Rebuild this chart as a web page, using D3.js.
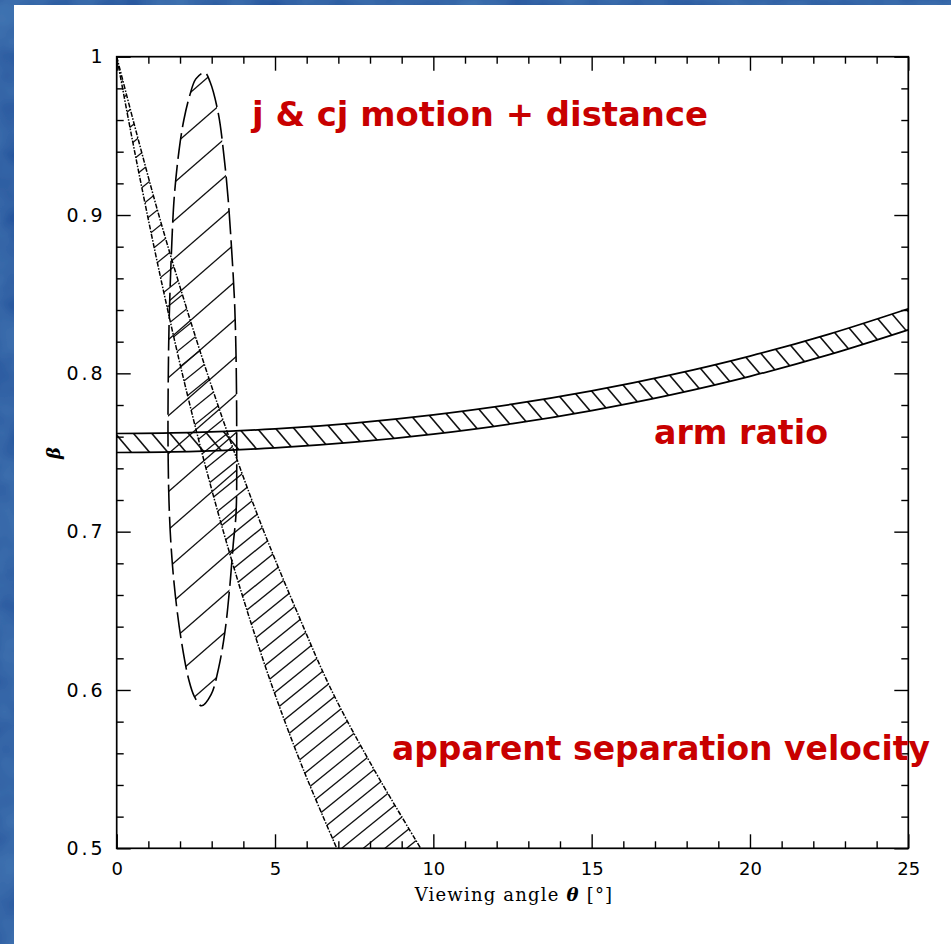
<!DOCTYPE html>
<html><head><meta charset="utf-8">
<script src="https://cdn.jsdelivr.net/npm/d3@7"></script>
<style>html,body{margin:0;padding:0;background:#1f4e99;}svg{display:block;}</style>
</head><body>
<script>
// ---------- data ----------
const xTickLabels = [0, 5, 10, 15, 20, 25];
const yTickLabels = [0.5, 0.6, 0.7, 0.8, 0.9, 1];

// arm ratio band (beta vs theta)
const armTheta = [0, 2.5, 5, 7.5, 10, 12.5, 15, 17.5, 20, 22.5, 25];
const armUpper = [0.762, 0.7627, 0.7649, 0.7686, 0.7738, 0.7805, 0.7889, 0.7990, 0.8109, 0.8248, 0.8408];
const armLower = [0.750, 0.7507, 0.7529, 0.7565, 0.7616, 0.7682, 0.7765, 0.7864, 0.7981, 0.8118, 0.8275];

// apparent separation velocity band (theta of edges vs beta)
const sepBeta       = [1.00, 0.95, 0.90, 0.85, 0.80, 0.75, 0.70, 0.65, 0.60, 0.55, 0.50];
const sepThetaLeft  = [0.00, 0.47, 0.97, 1.50, 2.07, 2.69, 3.37, 4.12, 4.95, 5.89, 6.95];
const sepThetaRight = [0.00, 0.65, 1.33, 2.07, 2.86, 3.72, 4.65, 5.68, 6.78, 8.12, 9.60];

// j & cj motion + distance contour (closed)
const ellTheta = [2.78, 2.95, 3.21, 3.40, 3.52, 3.63, 3.72, 3.77, 3.79, 3.77, 3.68, 3.57, 3.42, 3.22, 2.98, 2.68, 2.45, 2.27, 2.05, 1.85, 1.72, 1.65, 1.62, 1.63, 1.66, 1.74, 1.82, 1.97, 2.12, 2.30, 2.50];
const ellBeta  = [0.990, 0.984, 0.964, 0.935, 0.910, 0.878, 0.846, 0.810, 0.760, 0.712, 0.692, 0.665, 0.637, 0.614, 0.597, 0.590, 0.596, 0.607, 0.630, 0.660, 0.690, 0.720, 0.760, 0.800, 0.836, 0.882, 0.912, 0.941, 0.960, 0.975, 0.986];

const labels = [
  {text: "j & cj motion + distance", x: 252, y: 126, w: 456},
  {text: "arm ratio", x: 654, y: 444, w: 174},
  {text: "apparent separation velocity", x: 392, y: 760, w: 538}
];

// ---------- drawing ----------
const W = 951, H = 944;
const L = 116.7, R = 908.3, T = 56.7, B = 848.3;

const svg = d3.select("body").append("svg").attr("width", W).attr("height", H);
const defs = svg.append("defs");

// mottled blue backdrop
const f = defs.append("filter").attr("id", "tex").attr("x", 0).attr("y", 0).attr("width", 1).attr("height", 1);
f.append("feTurbulence").attr("type", "fractalNoise").attr("baseFrequency", 0.02).attr("numOctaves", 3).attr("seed", 4).attr("result", "n");
f.append("feColorMatrix").attr("in", "n").attr("type", "matrix")
  .attr("values", "0 0 0 0 0.10  0 0 0 0 0.30  0 0 0 0 0.60  0.6 0 0 0 -0.05").attr("result", "c");
f.append("feComposite").attr("in", "c").attr("in2", "SourceGraphic").attr("operator", "over");
svg.append("rect").attr("width", W).attr("height", H).attr("fill", "#1f4e99").attr("filter", "url(#tex)");
svg.append("rect").attr("x", 14).attr("y", 5).attr("width", W - 14).attr("height", H - 5).attr("fill", "#ffffff");

const x = d3.scaleLinear().domain([0, 25]).range([L, R]);
const y = d3.scaleLinear().domain([0.5, 1]).range([B, T]);

defs.append("clipPath").attr("id", "plotclip").append("rect")
  .attr("x", L).attr("y", T).attr("width", R - L).attr("height", B - T);

const plot = svg.append("g").attr("clip-path", "url(#plotclip)");

// geometry builders
const armData = armTheta.map((t, i) => ({t, lo: armLower[i], hi: armUpper[i]}));
const armArea = d3.area().x(d => x(d.t)).y0(d => y(d.lo)).y1(d => y(d.hi)).curve(d3.curveMonotoneX);
const sepData = sepBeta.map((b, i) => ({b, l: sepThetaLeft[i], r: sepThetaRight[i]}));
const sepArea = d3.area().y(d => y(d.b)).x0(d => x(d.l)).x1(d => x(d.r)).curve(d3.curveCatmullRom);
const ellData = ellTheta.map((t, i) => ({t, b: ellBeta[i]}));
const ellLine = d3.line().x(d => x(d.t)).y(d => y(d.b)).curve(d3.curveCatmullRomClosed);

defs.append("clipPath").attr("id", "armclip").append("path").attr("d", armArea(armData));
defs.append("clipPath").attr("id", "sepclip").append("path").attr("d", sepArea(sepData));
defs.append("clipPath").attr("id", "ellclip").append("path").attr("d", ellLine(ellData));

// hatching helpers (pixel-space parallel lines)
function hatchUp(g, angleDeg, spacing, phase) { // "/" lines
  const k = Math.tan(angleDeg * Math.PI / 180);
  const cMin = T + k * L - 50, cMax = B + k * R + 50;
  for (let c = phase + Math.floor((cMin - phase) / spacing) * spacing; c <= cMax; c += spacing) {
    g.append("line").attr("x1", L - 20).attr("y1", c - k * (L - 20))
      .attr("x2", R + 20).attr("y2", c - k * (R + 20));
  }
}
function hatchDown(g, kx, spacing, phase) { // "\" lines: x = c + kx*y
  const cMin = L - kx * B - 50, cMax = R - kx * T + 50;
  for (let c = phase + Math.floor((cMin - phase) / spacing) * spacing; c <= cMax; c += spacing) {
    g.append("line").attr("x1", c + kx * T).attr("y1", T).attr("x2", c + kx * B).attr("y2", B);
  }
}

const hStyle = g => g.attr("stroke", "#111").attr("stroke-width", 1.3).attr("fill", "none");

const gArm = plot.append("g").attr("clip-path", "url(#armclip)").call(hStyle).attr("stroke-width", 1.6);
hatchDown(gArm, 0.85, 18.3, 3);
const gSep = plot.append("g").attr("clip-path", "url(#sepclip)").call(hStyle);
hatchUp(gSep, 39, 17.5, 5);
const gEll = plot.append("g").attr("clip-path", "url(#ellclip)").call(hStyle);
hatchUp(gEll, 41, 38, 296 % 38);

// outlines
plot.append("path").attr("d", d3.line().x(d => x(d.t)).y(d => y(d.hi)).curve(d3.curveMonotoneX)(armData))
  .attr("fill", "none").attr("stroke", "#000").attr("stroke-width", 1.7);
plot.append("path").attr("d", d3.line().x(d => x(d.t)).y(d => y(d.lo)).curve(d3.curveMonotoneX)(armData))
  .attr("fill", "none").attr("stroke", "#000").attr("stroke-width", 1.7);

const sepEdge = key => d3.line().x(d => x(d[key])).y(d => y(d.b)).curve(d3.curveCatmullRom)(sepData);
["l", "r"].forEach(k => plot.append("path").attr("d", sepEdge(k))
  .attr("fill", "none").attr("stroke", "#000").attr("stroke-width", 1.5)
  .attr("stroke-dasharray", "5,1.5,1.5,1.5"));

plot.append("path").attr("d", ellLine(ellData))
  .attr("fill", "none").attr("stroke", "#000").attr("stroke-width", 1.6)
  .attr("stroke-dasharray", "26,6");

// axes (ticks inward on all four sides)
const fontTick = "DejaVu Sans";
const xMinor = d3.range(0, 26, 1).filter(v => v % 5 !== 0);
const yMinor = d3.range(50, 101, 2).map(v => v / 100).filter(v => Math.round(v * 100) % 10 !== 0);
function styleAxis(g) {
  g.select(".domain").remove();
  g.selectAll(".tick line").attr("stroke", "#000").attr("stroke-width", 1.4);
  g.selectAll(".tick text").attr("font-family", fontTick).attr("font-size", 18).attr("fill", "#000");
}
const yfmt = d => d === 1 ? "1" : d3.format(".1f")(d);

svg.append("g").attr("transform", `translate(0,${B})`)
  .call(d3.axisBottom(x).tickValues(xTickLabels).tickSize(-14).tickPadding(14).tickFormat(d3.format("d"))).call(styleAxis);
svg.append("g").attr("transform", `translate(0,${B})`)
  .call(d3.axisBottom(x).tickValues(xMinor).tickSize(-7).tickFormat("")).call(styleAxis);
svg.append("g").attr("transform", `translate(0,${T})`)
  .call(d3.axisTop(x).tickValues(xTickLabels).tickSize(-14).tickFormat("")).call(styleAxis);
svg.append("g").attr("transform", `translate(0,${T})`)
  .call(d3.axisTop(x).tickValues(xMinor).tickSize(-7).tickFormat("")).call(styleAxis);
const yAx = svg.append("g").attr("transform", `translate(${L},0)`)
  .call(d3.axisLeft(y).tickValues(yTickLabels).tickSize(-14).tickPadding(14).tickFormat(yfmt)).call(styleAxis);
yAx.selectAll(".tick text").attr("font-size", 19).attr("letter-spacing", 3).attr("dx", 3);
svg.append("g").attr("transform", `translate(${L},0)`)
  .call(d3.axisLeft(y).tickValues(yMinor).tickSize(-7).tickFormat("")).call(styleAxis);
svg.append("g").attr("transform", `translate(${R},0)`)
  .call(d3.axisRight(y).tickValues(yTickLabels).tickSize(-14).tickFormat("")).call(styleAxis);
svg.append("g").attr("transform", `translate(${R},0)`)
  .call(d3.axisRight(y).tickValues(yMinor).tickSize(-7).tickFormat("")).call(styleAxis);

svg.append("rect").attr("x", L).attr("y", T).attr("width", R - L).attr("height", B - T)
  .attr("fill", "none").attr("stroke", "#000").attr("stroke-width", 1.7);

// axis titles
const xt = svg.append("text").attr("x", 514).attr("y", 901).attr("text-anchor", "middle")
  .attr("font-family", "DejaVu Serif").attr("font-size", 18).attr("letter-spacing", 1.2).attr("fill", "#000");
xt.append("tspan").text("Viewing angle ");
xt.append("tspan").attr("font-style", "italic").attr("font-weight", "bold").text("θ");
xt.append("tspan").text(" [°]");

svg.append("text").attr("transform", "translate(60,453) rotate(-90)").attr("text-anchor", "middle")
  .attr("font-family", "DejaVu Serif").attr("font-style", "italic").attr("font-weight", "bold")
  .attr("font-size", 18).attr("fill", "#000").text("β");

// red annotations
svg.append("g").selectAll("text").data(labels).join("text")
  .attr("x", d => d.x).attr("y", d => d.y)
  .attr("textLength", d => d.w).attr("lengthAdjust", "spacingAndGlyphs")
  .attr("font-family", "DejaVu Sans").attr("font-weight", "bold").attr("font-size", 34)
  .attr("fill", "#c80000").text(d => d.text);
</script>
</body></html>
